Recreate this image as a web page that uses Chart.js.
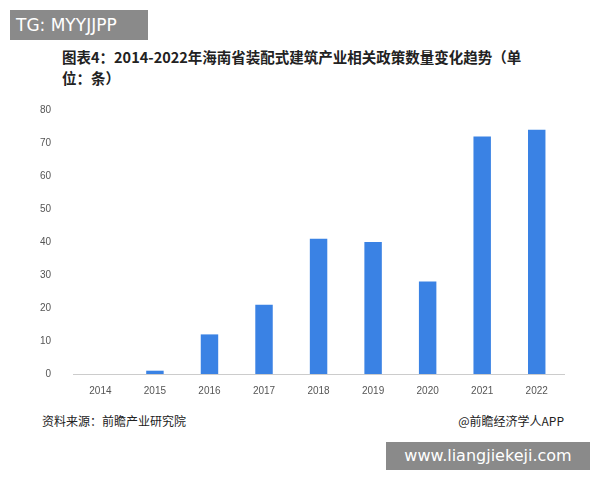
<!DOCTYPE html>
<html>
<head>
<meta charset="utf-8">
<script src="https://cdn.jsdelivr.net/npm/chart.js@4/dist/chart.umd.min.js"></script>
<style>
  body { margin: 0; width: 600px; height: 480px; background: #fff; position: relative; font-family: "Noto Sans CJK SC", sans-serif; overflow: hidden; }
  #tg { position: absolute; left: 10px; top: 10px; width: 138px; height: 30px; background: #8a8a8a; color: #fff; font: 17px "DejaVu Sans", sans-serif; line-height: 30px; padding-left: 6px; box-sizing: border-box; }
  #title { position: absolute; left: 62px; top: 46px; width: 476px; font-size: 14.5px; font-weight: bold; color: #222; line-height: 21px; }
  #chartBox { position: absolute; left: 26px; top: 90px; width: 546px; height: 310px; }
  #src { position: absolute; left: 42px; top: 412px; font-size: 12px; color: #222; }
  #app { position: absolute; right: 36px; top: 412px; font-size: 12px; color: #222; }
  #url { position: absolute; left: 386px; top: 442px; width: 204px; height: 28px; background: #8a8a8a; color: #fff; font: 16px "DejaVu Sans", sans-serif; line-height: 28px; text-align: center; }
</style>
</head>
<body>
<div id="tg">TG: MYYJJPP</div>
<div id="title">图表4：2014-2022年海南省装配式建筑产业相关政策数量变化趋势（单位：条）</div>
<div id="chartBox"><canvas id="c"></canvas></div>
<div id="src">资料来源：前瞻产业研究院</div>
<div id="app">@前瞻经济学人APP</div>
<div id="url">www.liangjiekeji.com</div>
<script>
const years = ['2014', '2015', '2016', '2017', '2018', '2019', '2020', '2021', '2022'];
const policyCounts = [0, 1, 12, 21, 41, 40, 28, 72, 74];

new Chart(document.getElementById('c'), {
  type: 'bar',
  data: {
    labels: years,
    datasets: [{ data: policyCounts, backgroundColor: '#3a82e4', barPercentage: 0.32, categoryPercentage: 1 }]
  },
  options: {
    responsive: true,
    maintainAspectRatio: false,
    animation: false,
    plugins: { legend: { display: false }, tooltip: { enabled: false } },
    layout: { padding: { top: 10, right: 8 } },
    scales: {
      x: {
        grid: { display: false },
        border: { color: '#cccccc' },
        ticks: { color: '#555', font: { size: 10 } }
      },
      y: {
        min: 0, max: 80,
        ticks: { stepSize: 10, color: '#555', font: { size: 10 }, padding: 14 },
        grid: { display: false },
        border: { display: false }
      }
    }
  }
});
</script>
</body>
</html>
